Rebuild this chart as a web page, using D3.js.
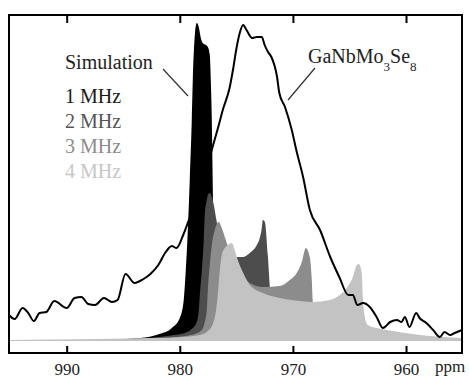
<!DOCTYPE html>
<html>
<head>
<meta charset="utf-8">
<script src="https://cdn.jsdelivr.net/npm/d3@7"></script>
<style>
  body { margin: 0; background: #fff; }
  svg { display: block; }
  svg text { font-family: "Liberation Serif", "Times New Roman", serif; }
</style>
</head>
<body>
<div id="diagram_area"></div>
<script>
// 69Ga NMR: Messung GaNbMo3Se8 + Simulationen fuer Cq = 1..4 MHz

// Messung (ppm, Intensitaet willk. Einheiten)
var expPpm = [995.1, 994.6, 993.9, 993.4, 992.9, 992.4, 991.8, 991.1, 990.0, 989.3, 988.7, 988.1, 987.5, 986.7, 986.0, 985.5,
              984.8, 984.0, 983.2, 982.6, 981.9, 981.3, 980.7, 980.3, 979.7, 979.1, 978.2, 977.6, 977.1, 976.6, 976.2, 975.6,
              975.3, 975.0, 974.7, 974.4, 974.1, 973.6, 973.2, 972.75, 972.5, 972.2, 971.9, 971.4, 971.2, 970.7, 970.1, 969.7,
              969.1, 968.5, 967.6, 966.7, 965.9, 965.1, 964.7, 964.3, 963.8, 963.2, 962.6, 962.05, 961.4, 960.8, 960.4, 960.1,
              959.7, 959.1, 958.8, 958.2, 957.6, 957.0, 956.6, 956.1, 955.7, 955.05];
var expVal = [26, 22, 33, 28, 20, 28, 29, 40, 33, 43, 44, 37, 36, 43, 39, 41,
              67, 58, 62, 67, 76, 88, 95, 93, 106, 124, 151, 173, 194, 214, 231, 253,
              271, 292, 308, 316, 311, 303, 304, 304, 296, 289, 284, 264, 248, 234, 211, 191,
              164, 131, 111, 84, 64, 46, 46, 36, 38, 34, 24, 13, 19, 21, 19, 24,
              14, 28, 23, 18, 11, 4, 9, 6, 8, 11];

// Simulation 1 MHz
var sim1Ppm = [995.1, 987.1, 983.5, 981.8, 980.7, 980.0, 979.65, 979.47, 979.29, 979.12, 978.94, 978.85, 978.67, 978.5,
               978.32, 978.14, 977.97, 977.7, 977.52, 977.35, 977.26, 977.17, 977.08, 976.99, 976.82, 976.02, 972.93, 955.07];
var sim1Val = [0, 1, 3, 7, 13, 23, 41, 71, 111, 161, 221, 261, 306, 318,
               314, 303, 298, 296, 294, 286, 261, 221, 151, 81, 21, 5, 1, 0];

// Simulation 2 MHz
var sim2Ppm = [995.1, 985.3, 981.8, 980.45, 979.56, 978.94, 978.5, 978.32, 978.23, 978.05, 977.88, 977.79, 977.61, 977.52,
               977.35, 977.17, 976.99, 976.73, 976.29, 975.76, 974.96, 974.43, 973.81, 973.19, 972.93, 972.75, 972.66,
               972.48, 972.22, 972.04, 971.87, 971.16, 969.39, 955.07];
var sim2Val = [0, 1, 4, 6, 8, 12, 19, 31, 46, 71, 101, 126, 141, 146,
               148, 144, 136, 119, 103, 91, 84, 84, 88, 96, 103, 113, 121,
               119, 86, 54, 29, 11, 4, 0];

// Simulation 3 MHz
var sim3Ppm = [995.1, 983.5, 980.9, 979.56, 978.67, 978.05, 977.79, 977.61, 977.52, 977.35, 977.17, 976.91, 976.73, 976.55,
               976.29, 975.93, 975.4, 974.69, 973.81, 972.66, 971.16, 970.27, 969.66, 969.21, 968.86, 968.51, 968.33,
               968.24, 967.8, 966.74, 963.91, 955.07];
var sim3Val = [0, 1, 3, 5, 7, 11, 19, 31, 51, 76, 96, 111, 117, 119,
               113, 101, 83, 69, 58, 54, 55, 61, 68, 79, 93, 84, 61,
               39, 19, 9, 3, 0];

// Simulation 4 MHz
var sim4Ppm = [995.1, 987.1, 982.65, 979.75, 978.23, 977.52, 977.08, 976.82, 976.64, 976.46, 976.29, 976.02, 975.76, 975.4,
               975.14, 974.96, 974.43, 973.81, 972.66, 971.16, 969.39, 968.24, 966.74, 965.85, 965.23, 964.7, 964.35,
               964.17, 963.91, 963.82, 963.64, 963.38, 962.58, 961.7, 958.78, 955.07];
var sim4Val = [1, 2, 3, 4, 6, 10, 17, 29, 46, 71, 86, 93, 96, 98,
               91, 84, 69, 56, 48, 43, 40, 39, 41, 46, 53, 64, 76,
               77, 68, 44, 24, 16, 13, 11, 6, 3];

var xTicks = [990, 980, 970, 960];
var simNames = ["1 MHz", "2 MHz", "3 MHz", "4 MHz"];
var simColors = ["#000000", "#4d4d4d", "#8c8c8c", "#c3c3c3"];
var textColors = ["#1a1a1a", "#555555", "#8c8c8c", "#c6c6c6"];

function zip(p, v) {
    return p.map(function(d, i) { return {ppm: d, v: v[i]}; });
}

var width = 469, height = 378;
var plot = {left: 9, right: 462, top: 15, bottom: 353};

var svg = d3.select('#diagram_area').append("svg")
    .attr("width", width)
    .attr("height", height);

var x = d3.scaleLinear().domain([995.1, 955.05]).range([plot.left, plot.right]);
var y = d3.scaleLinear().domain([0, 320]).range([341, 21]);

var area = d3.area()
    .x(function(d) { return x(d.ppm); })
    .y0(y(0))
    .y1(function(d) { return y(d.v); })
    .curve(d3.curveMonotoneX);

var line = d3.line()
    .x(function(d) { return x(d.ppm); })
    .y(function(d) { return y(d.v); })
    .curve(d3.curveMonotoneX);

// hinten schwarz, vorne hellgrau
var sims = [zip(sim1Ppm, sim1Val), zip(sim2Ppm, sim2Val), zip(sim3Ppm, sim3Val), zip(sim4Ppm, sim4Val)];

svg.append("g")
    .selectAll("path")
    .data(sims)
    .enter().append("path")
    .attr("d", area)
    .attr("fill", function(d, i) { return simColors[i]; });

svg.append("path")
    .datum(zip(expPpm, expVal))
    .attr("d", line)
    .attr("fill", "none")
    .attr("stroke", "#000")
    .attr("stroke-width", 2)
    .attr("stroke-linejoin", "round");

// Rahmen
svg.append("rect")
    .attr("x", plot.left)
    .attr("y", plot.top)
    .attr("width", plot.right - plot.left)
    .attr("height", plot.bottom - plot.top)
    .attr("fill", "none")
    .attr("stroke", "#000")
    .attr("stroke-width", 2);

// Achse unten (ticks nach innen), oben nur ticks
var xAxis = d3.axisBottom(x).tickValues(xTicks).tickSize(-7).tickPadding(10);
var axisG = svg.append("g")
    .attr("transform", "translate(0," + plot.bottom + ")")
    .call(xAxis);
axisG.select(".domain").remove();
axisG.selectAll(".tick line").attr("stroke", "#000").attr("stroke-width", 2);
axisG.selectAll(".tick text")
    .attr("font-size", 17)
    .attr("fill", "#222");

var topAxis = svg.append("g")
    .attr("transform", "translate(0," + plot.top + ")")
    .call(d3.axisTop(x).tickValues(xTicks).tickSize(-8).tickFormat(""));
topAxis.select(".domain").remove();
topAxis.selectAll(".tick line").attr("stroke", "#000").attr("stroke-width", 2);

svg.append("text")
    .attr("x", 450)
    .attr("y", 372)
    .attr("text-anchor", "middle")
    .attr("font-size", 17)
    .attr("fill", "#222")
    .text("ppm");

// Legende
svg.append("text")
    .attr("x", 65)
    .attr("y", 69)
    .attr("font-size", 20)
    .attr("fill", "#222")
    .text("Simulation");

svg.append("g")
    .selectAll("text")
    .data(simNames)
    .enter().append("text")
    .attr("x", 65)
    .attr("y", function(d, i) { return 103 + i * 25; })
    .attr("font-size", 20)
    .attr("fill", function(d, i) { return textColors[i]; })
    .text(function(d) { return d; });

var lbl = svg.append("text")
    .attr("x", 308)
    .attr("y", 63)
    .attr("font-size", 20)
    .attr("fill", "#222");
lbl.append("tspan").text("GaNbMo");
lbl.append("tspan").attr("font-size", 13).attr("dy", 8).text("3");
lbl.append("tspan").attr("dy", -8).text("Se");
lbl.append("tspan").attr("font-size", 13).attr("dy", 8).text("8");

// Pfeile
svg.append("line")
    .attr("x1", 163).attr("y1", 69).attr("x2", 188).attr("y2", 96)
    .attr("stroke", "#333").attr("stroke-width", 1.2);
svg.append("line")
    .attr("x1", 315).attr("y1", 68).attr("x2", 288).attr("y2", 100)
    .attr("stroke", "#333").attr("stroke-width", 1.2);
</script>
</body>
</html>
